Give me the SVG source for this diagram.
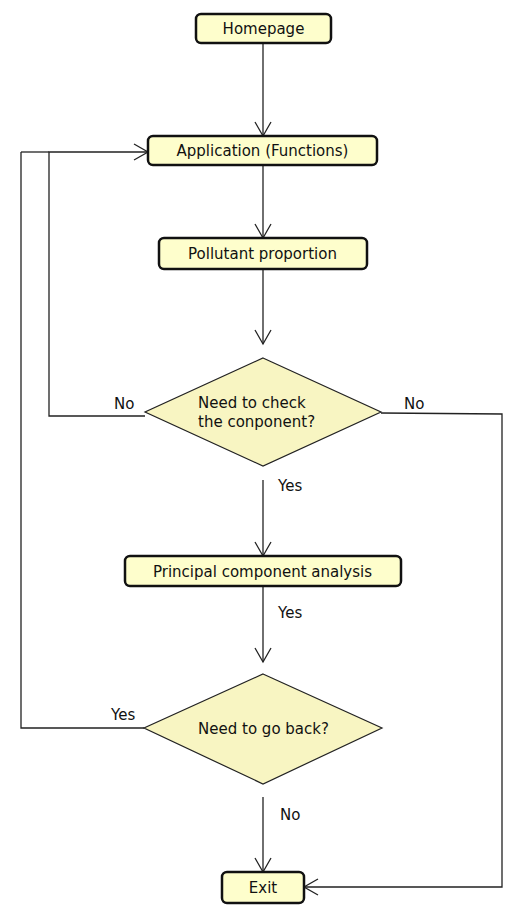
<svg xmlns="http://www.w3.org/2000/svg" width="530" height="916" viewBox="0 0 530 916">
  <style>
    text { font-family: "DejaVu Sans", Verdana, sans-serif; font-size: 15px; fill: #111; }
    .box { fill: #fefecc; stroke: #111; stroke-width: 2.5; }
    .dia { fill: #f8f5c2; stroke: #222; stroke-width: 1.2; }
    .c { text-anchor: middle; }
    .edge { fill: none; stroke: #222; stroke-width: 1.3; }
  </style>
  <defs>
    <marker id="open" markerUnits="userSpaceOnUse" markerWidth="20" markerHeight="20" viewBox="-16 -10 18 20" refX="0" refY="0" orient="auto">
      <path d="M -14,-8 L 0,0 L -14,8" fill="none" stroke="#222" stroke-width="1.3"/>
    </marker>
  </defs>
  <rect width="530" height="916" fill="#ffffff"/>

  <!-- connectors -->
  <g id="connectors">
    <path class="edge" d="M 263,43 L 263,136" marker-end="url(#open)"/>
    <path class="edge" d="M 263,165 L 263,238" marker-end="url(#open)"/>
    <path class="edge" d="M 263,269 L 263,344" marker-end="url(#open)"/>
    <path class="edge" d="M 145,416 L 49,416 L 49,152 L 148,152" marker-end="url(#open)"/>
    <path class="edge" d="M 21,152 L 49,152"/>
    <path class="edge" d="M 381,413 L 502,414 L 502,887 L 304,887" marker-end="url(#open)"/>
    <path class="edge" d="M 263,480 L 263,556" marker-end="url(#open)"/>
    <path class="edge" d="M 263,586 L 263,662" marker-end="url(#open)"/>
    <path class="edge" d="M 144,728 L 21,728 L 21,152"/>
    <path class="edge" d="M 263,797 L 263,872" marker-end="url(#open)"/>
    <text x="114" y="409">No</text>
    <text x="404" y="409">No</text>
    <text x="278" y="491">Yes</text>
    <text x="278" y="618">Yes</text>
    <text x="111" y="720">Yes</text>
    <text x="280" y="820">No</text>
  </g>

  <g id="homepage">
    <rect class="box" x="196" y="14" width="135" height="29" rx="5"/>
    <text class="c" x="263.5" y="34">Homepage</text>
  </g>
  <g id="application">
    <rect class="box" x="148" y="136" width="229" height="29" rx="5"/>
    <text class="c" x="262.5" y="156">Application (Functions)</text>
  </g>
  <g id="pollutant">
    <rect class="box" x="159" y="238" width="208" height="31" rx="5"/>
    <text class="c" x="262.5" y="259">Pollutant proportion</text>
  </g>
  <g id="check-component">
    <polygon class="dia" points="263,358 381,412 263,466 145,412"/>
    <text x="198" y="408">Need to check</text>
    <text x="198" y="427">the conponent?</text>
  </g>
  <g id="pca">
    <rect class="box" x="125" y="556" width="276" height="30" rx="5"/>
    <text class="c" x="262.5" y="577">Principal component analysis</text>
  </g>
  <g id="go-back">
    <polygon class="dia" points="263,674 382,728 263,784 144,728"/>
    <text class="c" x="263.5" y="734">Need to go back?</text>
  </g>
  <g id="exit">
    <rect class="box" x="222" y="872" width="82" height="31" rx="5"/>
    <text class="c" x="263" y="893">Exit</text>
  </g>
</svg>
